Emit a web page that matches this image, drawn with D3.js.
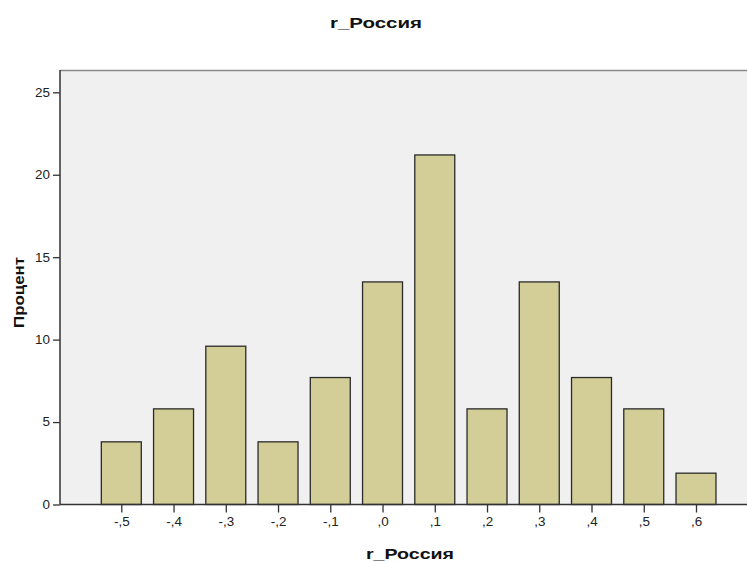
<!DOCTYPE html>
<html><head><meta charset="utf-8">
<script src="https://cdn.jsdelivr.net/npm/d3@7"></script>
<style>body{margin:0;background:#fff;}svg{display:block;font-family:"Liberation Sans",Arial,sans-serif;}</style>
</head><body>
<script>
const categories = [-0.5,-0.4,-0.3,-0.2,-0.1,0.0,0.1,0.2,0.3,0.4,0.5,0.6];
const tickLabels = ["-,5","-,4","-,3","-,2","-,1",",0",",1",",2",",3",",4",",5",",6"];
const percents = [3.8,5.8,9.6,3.8,7.7,13.5,21.2,5.8,13.5,7.7,5.8,1.9];
const yTicks = [0,5,10,15,20,25];
const title = "r_Россия", xTitle = "r_Россия", yTitle = "Процент";

const W = 747, H = 563;
const plot = {left:60, top:70, right:747, bottom:504.5};
const svg = d3.select("body").append("svg").attr("width",W).attr("height",H);

const x = d3.scaleLinear().domain([-0.5,0.6]).range([121.3,696]);
const y = d3.scaleLinear().domain([0,25]).range([plot.bottom,92.3]);
const step = x(0.1)-x(0);
const bw = step*0.765;

svg.append("rect").attr("x",plot.left).attr("y",plot.top)
  .attr("width",plot.right-plot.left+5).attr("height",plot.bottom-plot.top).attr("fill","#f0f0f0");
svg.append("line").attr("x1",plot.left).attr("x2",W).attr("y1",plot.top+0.5).attr("y2",plot.top+0.5)
  .attr("stroke","#8a8a8a").attr("stroke-width",1.5);

svg.append("g").selectAll("rect").data(categories).join("rect")
  .attr("x",(d)=>x(d)-bw/2).attr("width",bw)
  .attr("y",(d,i)=>y(percents[i])).attr("height",(d,i)=>y(0)-y(percents[i]))
  .attr("fill","#d3ce97").attr("stroke","#2a2a2a").attr("stroke-width",1.3);

function stretch(sel, f){
  sel.each(function(){
    const w = this.getComputedTextLength();
    d3.select(this).attr("textLength", w*f).attr("lengthAdjust","spacingAndGlyphs");
  });
}

const yAxis = svg.append("g").attr("transform",`translate(${plot.left},0)`)
  .call(d3.axisLeft(y).tickValues(yTicks).tickSize(7).tickPadding(3));
yAxis.select(".domain").attr("d",`M0,${plot.top}V${plot.bottom}`).attr("stroke","#333").attr("stroke-width",1.5);
yAxis.selectAll(".tick line").attr("stroke","#333").attr("stroke-width",1.3);
yAxis.selectAll("text").attr("font-size",12).attr("fill","#222").attr("font-family","Liberation Sans, Arial, sans-serif").call(stretch,1.12);

const xAxis = svg.append("g").attr("transform",`translate(0,${plot.bottom})`)
  .call(d3.axisBottom(x).tickValues(categories).tickFormat((d,i)=>tickLabels[i]).tickSize(8).tickPadding(5));
xAxis.select(".domain").attr("d",`M${plot.left},0H${W}`).attr("stroke","#333").attr("stroke-width",1.5);
xAxis.selectAll(".tick line").attr("stroke","#333").attr("stroke-width",1.3);
xAxis.selectAll("text").attr("font-size",12).attr("fill","#222").attr("font-family","Liberation Sans, Arial, sans-serif").call(stretch,1.12);

svg.append("text").attr("x",376).attr("y",28).attr("text-anchor","middle")
  .attr("font-weight","bold").attr("font-size",15.5).attr("fill","#111")
  .attr("textLength",92).attr("lengthAdjust","spacingAndGlyphs").text(title);
svg.append("text").attr("x",410).attr("y",559).attr("text-anchor","middle")
  .attr("font-weight","bold").attr("font-size",15.5).attr("fill","#111")
  .attr("textLength",88).attr("lengthAdjust","spacingAndGlyphs").text(xTitle);
svg.append("text").attr("transform","translate(24,292.5) rotate(-90)").attr("text-anchor","middle")
  .attr("font-weight","bold").attr("font-size",15.5).attr("fill","#111")
  .attr("textLength",71).attr("lengthAdjust","spacingAndGlyphs").text(yTitle);
</script>
</body></html>
